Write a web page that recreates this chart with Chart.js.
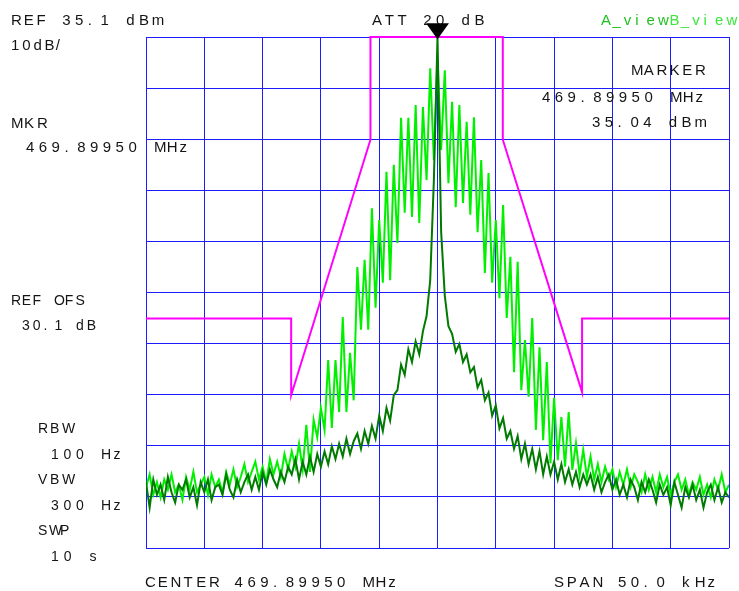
<!DOCTYPE html>
<html>
<head>
<meta charset="utf-8">
<script src="https://cdn.jsdelivr.net/npm/chart.js@4.4.0/dist/chart.umd.min.js"></script>
<style>
  html, body { margin: 0; padding: 0; background: #fff; }
</style>
</head>
<body>
<canvas id="sa" width="739" height="591"></canvas>
<script>
// --- sweep settings (offset from center, kHz) ---
const spanStart = -25;
const spanStop = 25;
const sweepPoints = 161;

// horizontal / vertical graticule
const xTicks = [-25, -20, -15, -10, -5, 0, 5, 10, 15, 20, 25];
const yTicks = [35.1, 25.1, 15.1, 5.1, -4.9, -14.9, -24.9, -34.9, -44.9, -54.9, -64.9];

// trace A (light green), dBm
const traceA = [
  -53.0, -50.5, -54.5, -52.0, -55.0, -51.5, -53.5, -50.5, -54.0, -52.5,
  -55.5, -51.0, -53.5, -50.0, -54.0, -52.5, -51.0, -54.5, -50.5, -53.0,
  -51.5, -54.0, -50.0, -52.5, -49.5, -53.0, -51.0, -48.5, -52.0, -50.0,
  -48.0, -51.5, -49.0, -52.0, -47.5, -50.5, -48.0, -51.0, -46.5, -49.5,
  -46.0, -49.0, -44.5, -49.5, -40.8, -50.0, -39.8, -43.2, -37.5, -41.8,
  -28.1, -41.4, -28.1, -38.3, -19.7, -38.3, -26.7, -36.0, -9.9, -22.2,
  -8.5, -22.2, 1.6, -17.9, -0.7, -13.0, 8.7, -12.5, 10.1, -5.2,
  19.3, 0.7, 19.3, -0.1, 21.8, -1.3, 21.4, 7.1, 29.0, 11.0,
  31.0, 13.0, 28.6, 6.5, 22.4, 1.8, 21.8, 2.6, 18.5, 0.3,
  19.4, -3.1, 11.0, -11.1, 8.5, -13.0, -0.7, -16.0, 2.2, -19.9,
  -7.9, -30.5, -8.9, -34.0, -24.2, -35.3, -19.9, -41.8, -25.6, -43.8,
  -28.5, -48.3, -35.5, -47.7, -39.3, -49.0, -38.3, -49.6, -44.4, -50.6,
  -45.7, -51.0, -47.0, -51.5, -48.5, -52.0, -49.0, -51.5, -49.5, -53.0,
  -50.0, -52.5, -49.5, -53.0, -50.5, -52.0, -54.0, -50.5, -53.5, -51.0,
  -54.0, -50.5, -53.0, -51.0, -54.5, -52.0, -50.5, -53.5, -51.5, -54.5,
  -52.0, -53.5, -51.0, -54.5, -52.5, -55.0, -51.5, -53.5, -50.5, -54.0, -52.5
];

// trace B (dark green), dBm
const traceB = [
  -52.0, -57.0, -51.5, -54.5, -52.5, -55.5, -51.0, -54.0, -56.0, -52.5,
  -53.5, -51.5, -55.0, -53.0, -56.5, -52.0, -54.0, -51.5, -55.5, -53.0,
  -52.5, -54.5, -50.5, -53.5, -55.0, -51.5, -54.0, -52.0, -50.5, -53.5,
  -51.0, -53.5, -50.0, -52.5, -49.5, -51.5, -53.0, -50.0, -52.0, -49.0,
  -50.5, -47.5, -51.5, -48.0, -50.5, -47.0, -50.0, -46.5, -49.0, -46.0,
  -48.5, -45.0, -47.5, -44.5, -47.0, -43.5, -46.5, -44.0, -42.5, -45.5,
  -42.0, -44.5, -41.0, -43.5, -39.0, -42.0, -37.5, -40.0, -35.0, -34.0,
  -29.0, -31.0, -26.0, -28.5, -24.5, -27.0, -22.5, -19.5, -12.5, 7.0,
  35.04, -3.0, -15.5, -21.5, -23.0, -26.5, -25.0, -28.5, -27.0, -30.5,
  -29.5, -33.5, -32.0, -36.0, -34.5, -39.0, -37.0, -41.5, -39.5, -43.5,
  -42.0, -45.5, -43.0, -47.5, -44.5, -48.5, -45.5, -49.5, -46.0, -50.5,
  -47.0, -50.5, -48.0, -51.5, -48.5, -52.0, -49.5, -52.5, -50.0, -53.0,
  -50.5, -52.5, -50.5, -53.5, -51.0, -54.0, -52.0, -50.5, -53.5, -51.5,
  -54.5, -52.5, -55.0, -51.5, -53.0, -55.5, -52.0, -54.0, -51.5, -53.5,
  -56.0, -52.5, -54.5, -53.0, -56.5, -52.0, -54.5, -57.0, -53.0, -55.0,
  -52.5, -55.5, -53.5, -57.0, -54.0, -52.5, -55.5, -53.0, -56.0, -54.0, -55.0
];

// spectrum mask (magenta)
const maskFreq = [-25, -12.55, -12.55, -5.75, -5.75, 5.6, 5.6, 12.4, 12.4, 25];
const maskLevel = [-20, -20, -35, 15, 35.1, 35.1, 15, -34.4, -20, -20];

// marker
const markerFreq = 0;
const markerLevel = 35.04;

// annotation text (instrument style, fixed character pitch)
const annotations = [
  { text: 'REF 35.1 dBm', x: 11, y: 25, pitch: 12.8 },
  { text: '10dB/', x: 11, y: 50, pitch: 11.2 },
  { text: 'MKR', x: 11, y: 128, pitch: 13 },
  { text: '469.89950 MHz', x: 26, y: 152, pitch: 12.8 },
  { text: 'ATT 20 dB', x: 372, y: 25, pitch: 12.8 },
  { text: 'A_view', x: 601, y: 25, pitch: 11.4, color: '#22c022' },
  { text: 'B_view', x: 669.4, y: 25, pitch: 11.4, color: '#3ae83a' },
  { text: 'MARKER', x: 631, y: 75, pitch: 12.8 },
  { text: '469.89950 MHz', x: 542, y: 102, pitch: 12.8 },
  { text: '35.04 dBm', x: 592, y: 127, pitch: 12.8 },
  { text: 'REF OFS', x: 11, y: 305, pitch: 10.75, size: 14 },
  { text: '30.1 dB', x: 22, y: 330, pitch: 10.8, size: 14 },
  { text: 'RBW', x: 38, y: 433, pitch: 12, size: 14 },
  { text: '100 Hz', x: 51, y: 459, pitch: 12.5, size: 14 },
  { text: 'VBW', x: 38, y: 484, pitch: 12, size: 14 },
  { text: '300 Hz', x: 51, y: 510, pitch: 12.5, size: 14 },
  { text: 'SWP', x: 38, y: 535, pitch: 11, size: 14 },
  { text: '10 s', x: 51, y: 561, pitch: 12.8, size: 14 },
  { text: 'CENTER 469.89950 MHz', x: 145, y: 587, pitch: 12.8 },
  { text: 'SPAN 50.0 kHz', x: 554, y: 587, pitch: 12.8 }
];

const sweepFreq = traceA.map((_, i) => spanStart + i * (spanStop - spanStart) / (sweepPoints - 1));
const toPoints = (xs, ys) => xs.map((x, i) => ({ x, y: ys[i] }));

// draws the screen texts and the marker triangle
const screenPlugin = {
    id: 'screenText',
    afterDraw(chart) {
        const ctx = chart.ctx;
        ctx.save();
        ctx.textBaseline = 'alphabetic';
        annotations.forEach(a => {
            ctx.font = `${a.size || 15}px "Liberation Sans", Arial, sans-serif`;
            ctx.fillStyle = a.color || '#141414';
            [...a.text].forEach((ch, k) => ctx.fillText(ch, a.x + k * a.pitch, a.y));
        });

        // marker: black triangle pointing at the peak
        const mx = chart.scales.x.getPixelForValue(markerFreq);
        const my = chart.scales.y.getPixelForValue(markerLevel);
        ctx.fillStyle = '#000';
        ctx.beginPath();
        ctx.moveTo(mx - 11.5, my - 14);
        ctx.lineTo(mx + 11.5, my - 14);
        ctx.lineTo(mx, my + 2);
        ctx.closePath();
        ctx.fill();
        ctx.restore();
    }
};

const gridStyle = { color: '#1c1cff', lineWidth: 1, drawTicks: false };

new Chart(document.getElementById('sa'), {
    type: 'line',
    data: {
        datasets: [
            {
                label: 'B_view',
                data: toPoints(sweepFreq, traceB),
                borderColor: '#007a00',
                borderWidth: 2,
                pointRadius: 0,
                tension: 0
            },
            {
                label: 'A_view',
                data: toPoints(sweepFreq, traceA),
                borderColor: '#00f000',
                borderWidth: 2,
                pointRadius: 0,
                tension: 0
            },
            {
                label: 'mask',
                data: toPoints(maskFreq, maskLevel),
                borderColor: '#ff00ff',
                borderWidth: 2,
                pointRadius: 0,
                tension: 0,
                clip: false
            }
        ]
    },
    options: {
        responsive: false,
        animation: false,
        events: [],
        layout: { padding: { left: 146, top: 37, right: 10, bottom: 43 } },
        scales: {
            x: {
                type: 'linear',
                min: spanStart,
                max: spanStop,
                afterBuildTicks: axis => { axis.ticks = xTicks.map(v => ({ value: v })); },
                ticks: { display: false },
                grid: gridStyle,
                border: { display: false }
            },
            y: {
                type: 'linear',
                min: yTicks[yTicks.length - 1],
                max: yTicks[0],
                afterBuildTicks: axis => { axis.ticks = yTicks.map(v => ({ value: v })); },
                ticks: { display: false },
                grid: gridStyle,
                border: { display: false }
            }
        },
        plugins: {
            legend: { display: false },
            tooltip: { enabled: false }
        }
    },
    plugins: [screenPlugin]
});
</script>
</body>
</html>
